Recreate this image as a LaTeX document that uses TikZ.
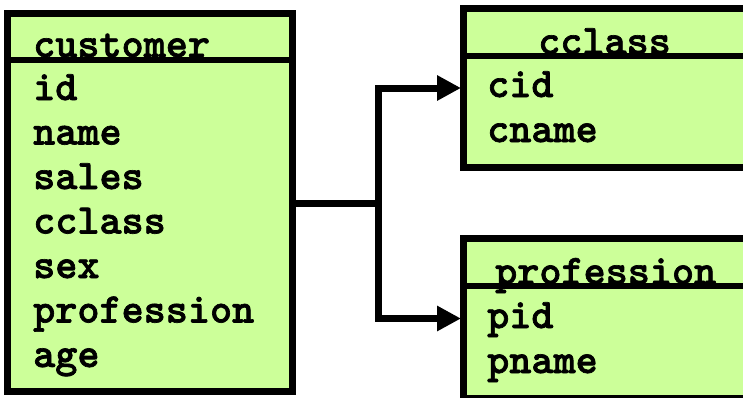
\documentclass[tikz,border=0pt]{standalone}
\usepackage{fontspec}
\newfontfamily\fieldfont[FakeBold=1.6]{lmmonolt10-bold.otf}
\usetikzlibrary{arrows.meta}
\definecolor{tablefill}{RGB}{204,255,153}
\tikzset{
  tablebox/.style={draw=black, fill=tablefill, line width=7pt},
  headrule/.style={draw=black, line width=6.5pt},
  field/.style={anchor=base west, inner sep=0pt,
    font=\fontsize{42.1}{44}\fieldfont},
  link/.style={draw=black, line width=7pt},
  linkarrow/.style={link, -{Triangle[length=24pt,width=24pt]}},
}
\begin{document}
\begin{tikzpicture}[x=1pt,y=-1pt]
\useasboundingbox (0,0) rectangle (743,397);
\clip (0,0) rectangle (743,397);

% customer table
\draw[tablebox] (7.5,13) rectangle (292.5,391);
\draw[headrule] (7.5,60) -- (292.5,60);
\node[field] (cust) at (33,57) {customer};
\node[field] (c1) at (33,100) {id};
\node[field] (c2) at (33,144.5) {name};
\node[field] (c3) at (33,189) {sales};
\node[field] (c4) at (33,233.5) {cclass};
\node[field] (c5) at (33,278) {sex};
\node[field] (c6) at (33,322.5) {profession};
\node[field] (c7) at (33,367) {age};

% cclass table
\draw[tablebox] (463.5,8) rectangle (760,167);
\draw[headrule] (463.5,56) -- (760,56);
\node[field] (cc) at (538,54) {cclass};
\node[field] (cc1) at (487,97) {cid};
\node[field] (cc2) at (487,142) {cname};

% profession table
\draw[tablebox] (463.5,238.5) rectangle (760,398);
\draw[headrule] (463.5,286) -- (760,286);
\node[field] (pr) at (495,284) {profession};
\node[field] (pr1) at (487,328) {pid};
\node[field] (pr2) at (487,373) {pname};

% foreign key links
\coordinate (src) at (296,203.5);
\coordinate (fork) at (378.5,203.5);
\coordinate (ctgt) at (461,88);
\coordinate (ptgt) at (461,318.5);
\draw[link] (src) -- (fork);
\draw[linkarrow] (fork) |- (ctgt);
\draw[linkarrow] (fork) |- (ptgt);
\end{tikzpicture}
\end{document}
